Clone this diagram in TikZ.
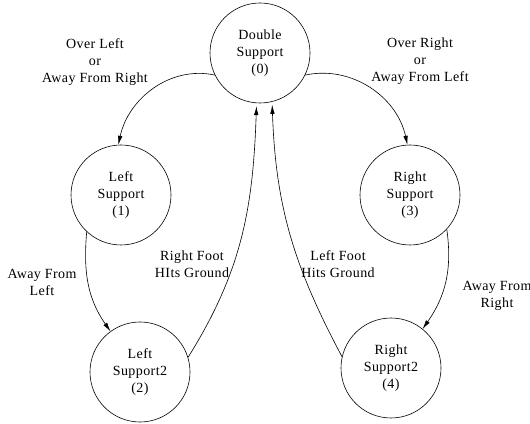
\documentclass[tikz,border=0pt]{standalone}
\usepackage{fontspec}
\setmainfont[LetterSpace=3]{Liberation Serif}
\usetikzlibrary{arrows.meta}

\begin{document}
\begin{tikzpicture}[x=1pt,y=1pt,
    state/.style={draw,circle,minimum size=100pt,inner sep=0pt,align=center,line width=0.6pt},
    lbl/.style={align=center,inner sep=0pt},
    trans/.style={line width=0.6pt,-{Latex[length=9pt,width=4.5pt]}},
    every node/.style={font=\fontsize{14}{17}\selectfont}]
\useasboundingbox (0,0) rectangle (530,423);
% states
\node[state] (ds)  at (260,370) {Double\\Support\\(0)};
\node[state] (ls)  at (121,228) {Left\\Support\\(1)};
\node[state] (ls2) at (140,51)  {Left\\Support2\\(2)};
\node[state] (rs)  at (410,228) {Right\\Support\\(3)};
\node[state] (rs2) at (391,55)  {Right\\Support2\\(4)};
% transitions
\draw[trans] (ds.206) to[out=168,in=78] (ls.93);
\draw[trans] (ds.334) to[out=12,in=102] (rs.93);
\draw[trans] (ls.227) to[out=265,in=125] (ls2.126);
\draw[trans] (rs.317) to[out=278,in=55] (rs2.51);
\draw[trans] (ls2.17) to[out=58,in=268] ([yshift=-3pt]ds.266);
\draw[trans] (rs2.167) to[out=118,in=272] ([yshift=-3pt]ds.284);
% labels
\node[lbl] (overleft)  at (95,361)  {Over Left\\or\\Away From Right};
\node[lbl] (overright) at (420,362) {Over Right\\or\\Away From Left};
\node[lbl] (awayleft)  at (42,141)  {Away From\\Left};
\node[lbl] (rightfoot) at (192,159) {Right Foot\\HIts Ground};
\node[lbl] (leftfoot)  at (338,159) {Left Foot\\Hits Ground};
\node[lbl] (awayright) at (497,127) {Away From\\Right};
\end{tikzpicture}
\end{document}
